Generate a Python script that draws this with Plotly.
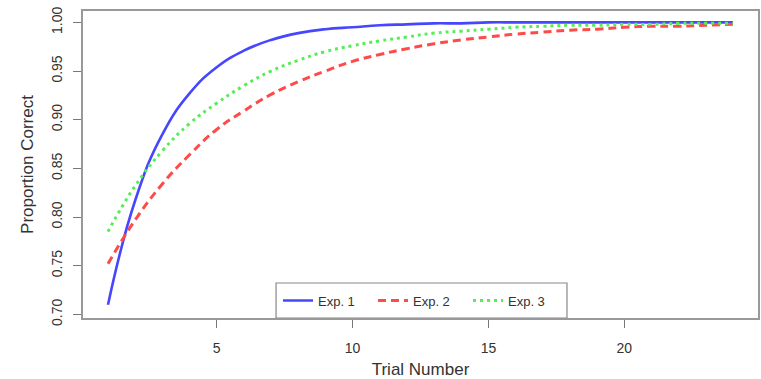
import plotly.graph_objects as go

trials = list(range(1, 25))
exp1 = [0.710, 0.817, 0.885, 0.927, 0.954, 0.971, 0.982, 0.989, 0.993, 0.995,
        0.997, 0.998, 0.999, 0.999, 1.000, 1.000, 1.000, 1.000, 1.000, 1.000,
        1.000, 1.000, 1.000, 1.000]
exp2 = [0.752, 0.797, 0.834, 0.864, 0.890, 0.909, 0.926, 0.939, 0.950, 0.960,
        0.967, 0.973, 0.978, 0.982, 0.985, 0.988, 0.990, 0.992, 0.993, 0.995,
        0.996, 0.996, 0.997, 0.998]
exp3 = [0.785, 0.832, 0.868, 0.896, 0.917, 0.935, 0.950, 0.961, 0.970, 0.976,
        0.981, 0.985, 0.989, 0.991, 0.993, 0.995, 0.996, 0.997, 0.997, 0.998,
        0.998, 0.999, 0.999, 0.999]
names = ["Exp. 1", "Exp. 2", "Exp. 3"]
y_ticks = [0.70, 0.75, 0.80, 0.85, 0.90, 0.95, 1.00]
x_ticks = [5, 10, 15, 20]

colors = ["#4646ff", "#ff4a4a", "#55ee55"]
dashes = ["solid", "8px,5px", "3px,4px"]
widths = [2.6, 3, 3]

fig = go.Figure()
for ys, nm, c, d, w in zip([exp1, exp2, exp3], names, colors, dashes, widths):
    fig.add_trace(go.Scatter(x=trials, y=ys, name=nm, mode="lines",
                             line=dict(color=c, dash=d, width=w, shape="spline", smoothing=1.3)))

# legend frame (R-style box sitting on the bottom axis)
fig.add_shape(type="rect", xref="paper", yref="paper",
              x0=0.286, x1=0.717, y0=0, y1=0.114,
              line=dict(color="#888", width=1.2), fillcolor="white", layer="below")

font = dict(family="Liberation Sans, Arial, sans-serif", size=14, color="#333")
fig.update_layout(
    width=761, height=379,
    margin=dict(l=83, r=3, t=11, b=61, autoexpand=False),
    paper_bgcolor="white", plot_bgcolor="white",
    font=font,
    showlegend=True,
    legend=dict(orientation="h", x=0.5, xanchor="center", y=0.057, yanchor="middle",
                borderwidth=0, bgcolor="rgba(0,0,0,0)",
                itemwidth=30, font=dict(size=13, color="#333"), entrywidth=50),
    xaxis=dict(range=[0.08, 24.92], tickvals=x_ticks, ticks="outside", ticklen=8,
               tickcolor="#777", showline=True, linecolor="#999", linewidth=1.5,
               mirror=True, showgrid=False, zeroline=False, automargin=True,
               ticklabelstandoff=8,
               title=dict(text="Trial Number", standoff=12)),
    yaxis=dict(range=[0.6963, 1.0117], tickvals=y_ticks, tickformat=".2f",
               ticks="outside", ticklen=8, tickcolor="#777", tickangle=-90,
               showline=True, linecolor="#999", linewidth=1.5, mirror=True,
               showgrid=False, zeroline=False, automargin=True,
               ticklabelstandoff=6, ticklabeloverflow="allow",
               title=dict(text="Proportion Correct", standoff=11)),
)
fig.write_html("out.html", config={"displayModeBar": False},
               post_script="document.body.style.margin='0';")
